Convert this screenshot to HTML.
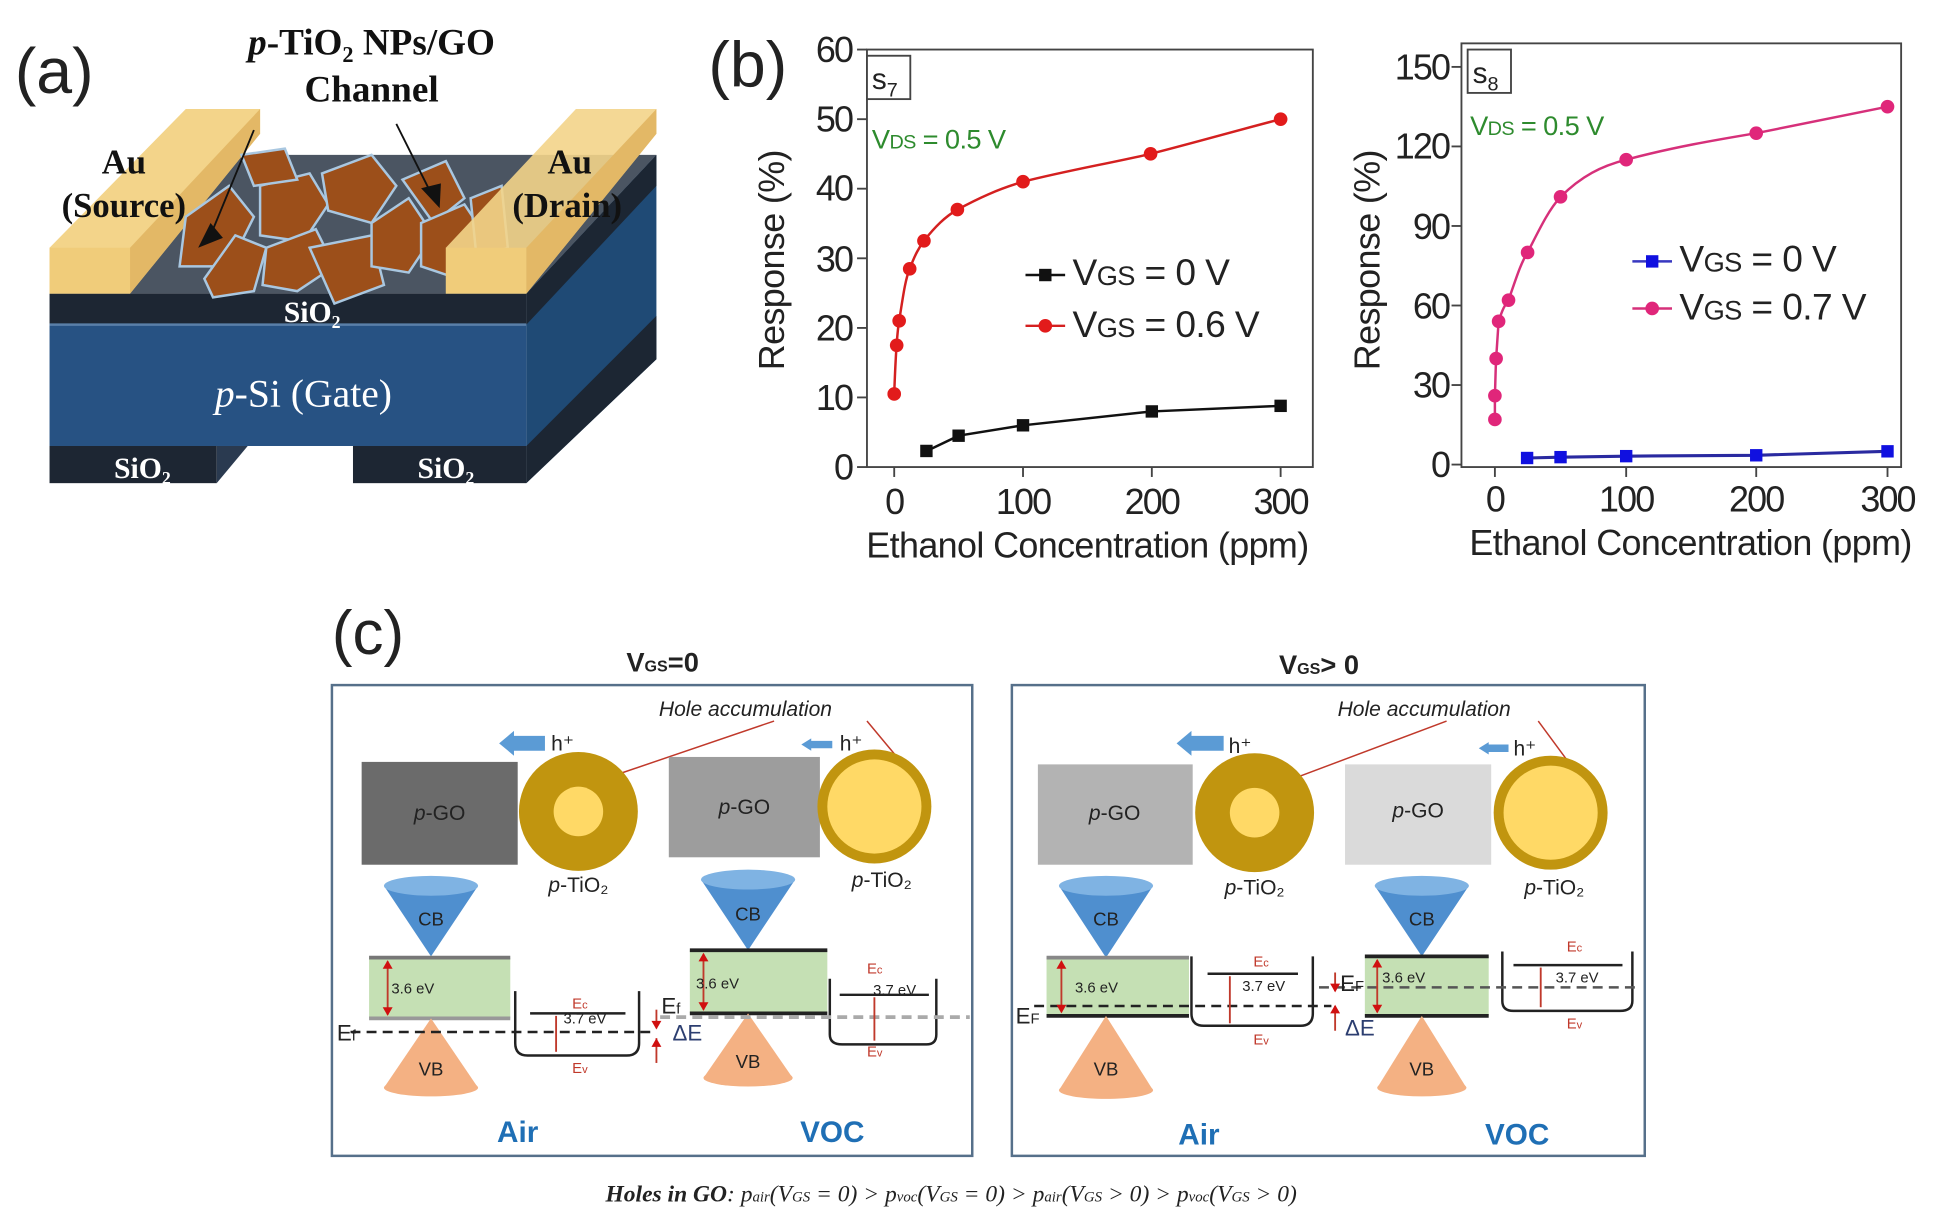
<!DOCTYPE html>
<html><head><meta charset="utf-8"><style>
html,body{margin:0;padding:0;background:#fff;}
svg{display:block;}
.tk{font-family:"Liberation Sans Narrow","Liberation Sans",sans-serif;font-size:29px;fill:#222;letter-spacing:-1.5px;}
.lb{font-family:"Liberation Sans",sans-serif;font-size:29px;fill:#222;letter-spacing:-0.5px;}
.sr{font-family:"Liberation Serif",serif;}
.cs{font-family:"Liberation Sans",sans-serif;}
</style></head><body>
<svg width="1942" height="1224" viewBox="0 0 1568 988" preserveAspectRatio="none" xmlns="http://www.w3.org/2000/svg">
<rect width="1568" height="988" fill="#fff"/>
<!-- (a) -->
<text x="12" y="75" class="cs" font-size="52" fill="#222">(a)</text>
<text x="300" y="44" class="sr" font-size="30" font-weight="bold" text-anchor="middle" fill="#111"><tspan font-style="italic">p</tspan>-TiO₂ NPs/GO</text>
<text x="300" y="82" class="sr" font-size="30" font-weight="bold" text-anchor="middle" fill="#111">Channel</text>
<polygon points="40,237 425,237 530,125 145,125" fill="#4b5562"/>
<polygon points="425,237 530,125 530,290 425,390" fill="#1f4a75"/>
<polygon points="425,237 530,125 530,150 425,262" fill="#1c2633"/>
<polygon points="425,360 530,255 530,290 425,390" fill="#1c2633"/>
<rect x="40" y="237" width="385" height="25" fill="#1d2633"/>
<rect x="40" y="262" width="385" height="98" fill="#275283"/>
<line x1="40" y1="262" x2="425" y2="262" stroke="#5a7fa8" stroke-width="2"/>
<rect x="40" y="360" width="135" height="30" fill="#1d2633"/>
<polygon points="175,360 200,360 175,390" fill="#2a3a50"/>
<rect x="285" y="360" width="140" height="30" fill="#1d2633"/>
<polygon points="40,237 105,237 210,108 210,88 150,88 40,200" fill="#f3d48a"/>
<polygon points="40,200 105,200 105,237 40,237" fill="#f0cc7a"/>
<polygon points="105,200 210,88 210,108 105,237" fill="#e3b866"/>
<g fill="#9c4f1a" stroke="#a9c7e0" stroke-width="2">
<polygon points="150,175 185,150 205,175 185,215 145,215"/>
<polygon points="165,225 190,190 215,200 205,235 172,240"/>
<polygon points="210,150 250,140 265,165 245,195 210,190"/>
<polygon points="215,200 255,185 270,215 240,235 212,230"/>
<polygon points="250,200 300,190 310,230 270,245"/>
<polygon points="260,140 300,125 320,150 300,180 265,170"/>
<polygon points="300,180 330,160 350,190 330,220 300,215"/>
<polygon points="325,145 360,130 375,160 350,180"/>
<polygon points="340,180 375,165 395,195 370,225 340,215"/>
<polygon points="380,160 405,150 410,200 385,210"/>
<polygon points="195,125 230,120 240,145 205,150"/>
</g>
<polygon points="360,237 425,237 530,108 530,88 465,88 360,200" fill="#f3d48a" opacity="0.9"/>
<polygon points="360,200 425,200 425,237 360,237" fill="#f0cc7a"/>
<polygon points="425,200 530,88 530,108 425,237" fill="#e3b866"/>
<line x1="205" y1="105" x2="170" y2="190" stroke="#111" stroke-width="1.5"/>
<polygon points="160,200 170,180 180,192" fill="#111"/>
<line x1="320" y1="100" x2="350" y2="160" stroke="#111" stroke-width="1.5"/>
<polygon points="355,168 340,152 356,148" fill="#111"/>
<text x="100" y="140" class="sr" font-size="28" font-weight="bold" text-anchor="middle" fill="#111">Au</text>
<text x="100" y="175" class="sr" font-size="28" font-weight="bold" text-anchor="middle" fill="#111">(Source)</text>
<text x="460" y="140" class="sr" font-size="28" font-weight="bold" text-anchor="middle" fill="#111">Au</text>
<text x="458" y="175" class="sr" font-size="28" font-weight="bold" text-anchor="middle" fill="#111">(Drain)</text>
<text x="252" y="260" class="sr" font-size="24" font-weight="bold" text-anchor="middle" fill="#fff">SiO₂</text>
<text x="245" y="328" class="sr" font-size="32" text-anchor="middle" fill="#fff"><tspan font-style="italic">p</tspan>-Si (Gate)</text>
<text x="115" y="386" class="sr" font-size="24" font-weight="bold" text-anchor="middle" fill="#fff">SiO₂</text>
<text x="360" y="386" class="sr" font-size="24" font-weight="bold" text-anchor="middle" fill="#fff">SiO₂</text>

<!-- (b) chart 1 -->
<text x="572" y="70" class="cs" font-size="52" fill="#222">(b)</text>
<rect x="700" y="40" width="360" height="337" fill="none" stroke="#444" stroke-width="1.5"/>
<g stroke="#444" stroke-width="1.5">
<line x1="692" y1="377" x2="700" y2="377"/><line x1="692" y1="320.8" x2="700" y2="320.8"/><line x1="692" y1="264.7" x2="700" y2="264.7"/><line x1="692" y1="208.5" x2="700" y2="208.5"/><line x1="692" y1="152.3" x2="700" y2="152.3"/><line x1="692" y1="96.2" x2="700" y2="96.2"/><line x1="692" y1="40" x2="700" y2="40"/>
<line x1="722" y1="377" x2="722" y2="385"/><line x1="826" y1="377" x2="826" y2="385"/><line x1="930" y1="377" x2="930" y2="385"/><line x1="1034" y1="377" x2="1034" y2="385"/>
</g>
<g class="tk" text-anchor="end">
<text x="688" y="387">0</text><text x="688" y="331">10</text><text x="688" y="275">20</text><text x="688" y="219">30</text><text x="688" y="162">40</text><text x="688" y="106">50</text><text x="688" y="50">60</text>
</g>
<g class="tk" text-anchor="middle">
<text x="722" y="415">0</text><text x="826" y="415">100</text><text x="930" y="415">200</text><text x="1034" y="415">300</text>
</g>
<text x="878" y="450" class="lb" text-anchor="middle">Ethanol Concentration (ppm)</text>
<text transform="translate(633,210) rotate(-90)" class="lb" text-anchor="middle">Response (%)</text>
<rect x="700" y="45" width="35" height="35" fill="#fff" stroke="#444" stroke-width="1.5"/>
<text x="704" y="72" class="cs" font-size="24" fill="#222">s<tspan font-size="16" dy="6">7</tspan></text>
<text x="704" y="120" class="tk" style="font-size:22px;fill:#2e8b2e;letter-spacing:-0.5px">V<tspan style="font-size:16px">DS</tspan> = 0.5 V</text>
<path d="M722,318 C723,290 724,270 726,259 C729,240 731,225 734.5,217 C739,205 742,200 746,194.4 C755,183 763,175 773,169.2 C790,160 805,153 826,146.7 C860,138 895,132 929,124.2 C965,115 1000,105 1034,96.2" fill="none" stroke="#d42020" stroke-width="2"/>
<g fill="#e21b1b"><circle cx="722" cy="318" r="5.5"/><circle cx="724" cy="278.7" r="5.5"/><circle cx="726" cy="259" r="5.5"/><circle cx="734.5" cy="217" r="5.5"/><circle cx="746" cy="194.4" r="5.5"/><circle cx="773" cy="169.2" r="5.5"/><circle cx="826" cy="146.7" r="5.5"/><circle cx="929" cy="124.2" r="5.5"/><circle cx="1034" cy="96.2" r="5.5"/></g>
<polyline points="748,364.1 774,351.7 826,343.3 930,332.1 1034,327.6" fill="none" stroke="#111" stroke-width="2"/>
<g fill="#111"><rect x="743" y="359" width="10" height="10"/><rect x="769" y="346.7" width="10" height="10"/><rect x="821" y="338.3" width="10" height="10"/><rect x="925" y="327.1" width="10" height="10"/><rect x="1029" y="322.6" width="10" height="10"/></g>
<line x1="828" y1="222" x2="860" y2="222" stroke="#111" stroke-width="2"/><rect x="839" y="217" width="10" height="10" fill="#111"/>
<text x="866" y="230" class="tk" style="font-size:30px;letter-spacing:-0.5px">V<tspan style="font-size:22px">GS</tspan> = 0 V</text>
<line x1="828" y1="263" x2="860" y2="263" stroke="#d42020" stroke-width="2"/><circle cx="844" cy="263" r="5.5" fill="#e21b1b"/>
<text x="866" y="272" class="tk" style="font-size:30px;letter-spacing:-0.5px">V<tspan style="font-size:22px">GS</tspan> = 0.6 V</text>

<!-- chart 2 -->
<rect x="1180" y="35" width="355" height="342" fill="none" stroke="#444" stroke-width="1.5"/>
<g stroke="#444" stroke-width="1.5">
<line x1="1172" y1="375" x2="1180" y2="375"/><line x1="1172" y1="310.8" x2="1180" y2="310.8"/><line x1="1172" y1="246.6" x2="1180" y2="246.6"/><line x1="1172" y1="182.4" x2="1180" y2="182.4"/><line x1="1172" y1="118.2" x2="1180" y2="118.2"/><line x1="1172" y1="54" x2="1180" y2="54"/>
<line x1="1207" y1="377" x2="1207" y2="385"/><line x1="1313" y1="377" x2="1313" y2="385"/><line x1="1418" y1="377" x2="1418" y2="385"/><line x1="1524" y1="377" x2="1524" y2="385"/>
</g>
<g class="tk" text-anchor="end">
<text x="1170" y="385">0</text><text x="1170" y="321">30</text><text x="1170" y="257">60</text><text x="1170" y="193">90</text><text x="1170" y="128">120</text><text x="1170" y="64">150</text>
</g>
<g class="tk" text-anchor="middle">
<text x="1207" y="413">0</text><text x="1313" y="413">100</text><text x="1418" y="413">200</text><text x="1524" y="413">300</text>
</g>
<text x="1365" y="448" class="lb" text-anchor="middle">Ethanol Concentration (ppm)</text>
<text transform="translate(1114,210) rotate(-90)" class="lb" text-anchor="middle">Response (%)</text>
<rect x="1185" y="40" width="35" height="35" fill="#fff" stroke="#444" stroke-width="1.5"/>
<text x="1189" y="67" class="cs" font-size="24" fill="#222">s<tspan font-size="16" dy="6">8</tspan></text>
<text x="1187" y="109" class="tk" style="font-size:22px;fill:#2e8b2e;letter-spacing:-0.5px">V<tspan style="font-size:16px">DS</tspan> = 0.5 V</text>
<path d="M1207,338.6 L1207,319.4 C1207.5,305 1207.6,297 1208,289.4 C1209,275 1209.5,266 1210,259.4 C1213,250 1215,246 1218,242.3 C1224,225 1228,212 1233.4,203.8 C1243,185 1250,170 1260,158.9 C1277,142 1293,134 1313,128.9 C1350,119 1385,113 1418,107.5 C1455,100 1490,93 1524,86.1" fill="none" stroke="#d6307a" stroke-width="2"/>
<g fill="#e0267a"><circle cx="1207" cy="338.6" r="5.5"/><circle cx="1207" cy="319.4" r="5.5"/><circle cx="1208" cy="289.4" r="5.5"/><circle cx="1210" cy="259.4" r="5.5"/><circle cx="1218" cy="242.3" r="5.5"/><circle cx="1233.4" cy="203.8" r="5.5"/><circle cx="1260" cy="158.9" r="5.5"/><circle cx="1313" cy="128.9" r="5.5"/><circle cx="1418" cy="107.5" r="5.5"/><circle cx="1524" cy="86.1" r="5.5"/></g>
<polyline points="1233,369.7 1260,369 1313,368.2 1418,367.5 1524,364.3" fill="none" stroke="#2a2aa0" stroke-width="2.5"/>
<g fill="#1010e0"><rect x="1228" y="364.7" width="10" height="10"/><rect x="1255" y="364" width="10" height="10"/><rect x="1308" y="363.2" width="10" height="10"/><rect x="1413" y="362.5" width="10" height="10"/><rect x="1519" y="359.3" width="10" height="10"/></g>
<line x1="1318" y1="211" x2="1350" y2="211" stroke="#3838c0" stroke-width="2"/><rect x="1329" y="206" width="10" height="10" fill="#1010e0"/>
<text x="1356" y="219" class="tk" style="font-size:30px;letter-spacing:-0.5px">V<tspan style="font-size:22px">GS</tspan> = 0 V</text>
<line x1="1318" y1="249" x2="1350" y2="249" stroke="#d6307a" stroke-width="2"/><circle cx="1334" cy="249" r="5.5" fill="#e0267a"/>
<text x="1356" y="258" class="tk" style="font-size:30px;letter-spacing:-0.5px">V<tspan style="font-size:22px">GS</tspan> = 0.7 V</text>

<!-- (c) -->
<text x="268" y="528" class="cs" font-size="50" fill="#222">(c)</text>
<text x="535" y="542" class="cs" font-size="22" font-weight="bold" text-anchor="middle" fill="#222">V<tspan font-size="13">GS</tspan>=0</text>
<text x="1065" y="544" class="cs" font-size="22" font-weight="bold" text-anchor="middle" fill="#222">V<tspan font-size="13">GS</tspan>&gt; 0</text>
<rect x="268" y="553" width="517" height="380" fill="#fff" stroke="#56708a" stroke-width="2"/>
<rect x="817" y="553" width="511" height="380" fill="#fff" stroke="#56708a" stroke-width="2"/>
<g class="cs" font-style="italic" font-size="17" fill="#222">
<text x="532" y="578">Hole accumulation</text>
<text x="1080" y="578">Hole accumulation</text>
</g>
<g stroke="#c0392b" stroke-width="1.2" fill="none">
<line x1="625" y1="582" x2="490" y2="628"/><line x1="700" y1="582" x2="725" y2="612"/>
<line x1="1168" y1="582" x2="1035" y2="632"/><line x1="1242" y1="582" x2="1270" y2="620"/>
</g>
<g fill="#5b9bd5">
<polygon points="403,600 415,590 415,594 440,594 440,606 415,606 415,610"/>
<polygon points="647,601 655,596 655,598 672,598 672,604 655,604 655,606"/>
<polygon points="950,600 962,590 962,594 988,594 988,606 962,606 962,610"/>
<polygon points="1194,604 1202,599 1202,601 1218,601 1218,607 1202,607 1202,609"/>
</g>
<g class="cs" font-size="17" fill="#222">
<text x="445" y="606">h⁺</text><text x="678" y="606">h⁺</text><text x="992" y="608">h⁺</text><text x="1222" y="610">h⁺</text>
</g>
<rect x="292" y="615" width="126" height="83" fill="#6b6b6b"/>
<rect x="540" y="611" width="122" height="81" fill="#9d9d9d"/>
<rect x="838" y="617" width="125" height="81" fill="#b3b3b3"/>
<rect x="1086" y="617" width="118" height="81" fill="#dadada"/>
<g class="cs" font-size="17" fill="#222" text-anchor="middle">
<text x="355" y="662"><tspan font-style="italic">p</tspan>-GO</text>
<text x="601" y="657"><tspan font-style="italic">p</tspan>-GO</text>
<text x="900" y="662"><tspan font-style="italic">p</tspan>-GO</text>
<text x="1145" y="660"><tspan font-style="italic">p</tspan>-GO</text>
<text x="467" y="720"><tspan font-style="italic">p</tspan>-TiO₂</text>
<text x="712" y="716"><tspan font-style="italic">p</tspan>-TiO₂</text>
<text x="1013" y="722"><tspan font-style="italic">p</tspan>-TiO₂</text>
<text x="1255" y="722"><tspan font-style="italic">p</tspan>-TiO₂</text>
</g>
<circle cx="467" cy="655" r="48" fill="#c1950f"/><circle cx="467" cy="655" r="20" fill="#ffd966"/>
<circle cx="706" cy="651" r="46" fill="#c1950f"/><circle cx="706" cy="651" r="38" fill="#ffd966"/>
<circle cx="1013" cy="656" r="48" fill="#c1950f"/><circle cx="1013" cy="656" r="20" fill="#ffd966"/>
<circle cx="1252" cy="656" r="46" fill="#c1950f"/><circle cx="1252" cy="656" r="38" fill="#ffd966"/>

<g>
<polygon points="310,715 386,715 348,772" fill="#4f8fcf"/><ellipse cx="348" cy="715" rx="38" ry="8" fill="#7fb3e3"/>
<rect x="298" y="773" width="114" height="49" fill="#c5e0b4"/>
<line x1="298" y1="773" x2="412" y2="773" stroke="#777" stroke-width="3"/><line x1="298" y1="822" x2="412" y2="822" stroke="#999" stroke-width="3"/>
<polygon points="348,822 310,878 386,878" fill="#f4b183"/><ellipse cx="348" cy="878" rx="38" ry="7" fill="#f4b183"/>
<path d="M416,800 L416,842 Q416,852 426,852 L506,852 Q516,852 516,842 L516,800 M428,818 L505,818" fill="none" stroke="#222" stroke-width="2"/>
<line x1="283" y1="833" x2="528" y2="833" stroke="#222" stroke-width="2" stroke-dasharray="8,5"/>
<polygon points="566,710 642,710 604,767" fill="#4f8fcf"/><ellipse cx="604" cy="710" rx="38" ry="8" fill="#7fb3e3"/>
<rect x="557" y="767" width="111" height="51" fill="#c5e0b4"/>
<line x1="557" y1="767" x2="668" y2="767" stroke="#222" stroke-width="3"/><line x1="557" y1="818" x2="668" y2="818" stroke="#222" stroke-width="3"/>
<polygon points="604,818 568,870 640,870" fill="#f4b183"/><ellipse cx="604" cy="870" rx="36" ry="7" fill="#f4b183"/>
<path d="M670,790 L670,835 Q670,843 680,843 L748,843 Q756,843 756,835 L756,790 M678,803 L750,803" fill="none" stroke="#222" stroke-width="2"/>
<line x1="533" y1="821" x2="783" y2="821" stroke="#aaa" stroke-width="3" stroke-dasharray="8,5"/>
<polygon points="855,715 931,715 893,773" fill="#4f8fcf"/><ellipse cx="893" cy="715" rx="38" ry="8" fill="#7fb3e3"/>
<rect x="845" y="773" width="115" height="47" fill="#c5e0b4"/>
<line x1="845" y1="773" x2="960" y2="773" stroke="#888" stroke-width="3"/><line x1="845" y1="820" x2="960" y2="820" stroke="#222" stroke-width="3"/>
<polygon points="893,820 855,880 931,880" fill="#f4b183"/><ellipse cx="893" cy="880" rx="38" ry="7" fill="#f4b183"/>
<path d="M962,772 L962,818 Q962,828 972,828 L1050,828 Q1060,828 1060,818 L1060,772 M975,786 L1048,786" fill="none" stroke="#222" stroke-width="2"/>
<line x1="835" y1="812" x2="1075" y2="812" stroke="#222" stroke-width="2" stroke-dasharray="8,5"/>
<polygon points="1110,715 1186,715 1148,772" fill="#4f8fcf"/><ellipse cx="1148" cy="715" rx="38" ry="8" fill="#7fb3e3"/>
<rect x="1102" y="772" width="100" height="48" fill="#c5e0b4"/>
<line x1="1102" y1="772" x2="1202" y2="772" stroke="#222" stroke-width="3"/><line x1="1102" y1="820" x2="1202" y2="820" stroke="#222" stroke-width="3"/>
<polygon points="1148,820 1112,878 1184,878" fill="#f4b183"/><ellipse cx="1148" cy="878" rx="36" ry="7" fill="#f4b183"/>
<path d="M1213,768 L1213,808 Q1213,816 1222,816 L1308,816 Q1318,816 1318,808 L1318,768 M1222,779 L1310,779" fill="none" stroke="#222" stroke-width="2"/>
<line x1="1065" y1="797" x2="1322" y2="797" stroke="#555" stroke-width="2" stroke-dasharray="8,5"/>
</g>
<g class="cs" font-size="15" fill="#222" text-anchor="middle">
<text x="348" y="747">CB</text><text x="604" y="743">CB</text><text x="893" y="747">CB</text><text x="1148" y="747">CB</text>
<text x="348" y="868">VB</text><text x="604" y="862">VB</text><text x="893" y="868">VB</text><text x="1148" y="868">VB</text>
</g>
<g stroke="#c0392b" stroke-width="1.5">
<line x1="313" y1="776" x2="313" y2="819"/><line x1="449" y1="820" x2="449" y2="849"/>
<line x1="568" y1="770" x2="568" y2="815"/><line x1="706" y1="805" x2="706" y2="840"/>
<line x1="857" y1="776" x2="857" y2="817"/><line x1="993" y1="788" x2="993" y2="826"/>
<line x1="1112" y1="775" x2="1112" y2="817"/><line x1="1244" y1="781" x2="1244" y2="813"/>
<line x1="530" y1="815" x2="530" y2="830"/><line x1="530" y1="838" x2="530" y2="858"/>
<line x1="1078" y1="785" x2="1078" y2="800"/><line x1="1078" y1="812" x2="1078" y2="832"/>
</g>
<g fill="#d01010">
<polygon points="309,782 313,775 317,782"/><polygon points="309,813 313,820 317,813"/>
<polygon points="564,776 568,769 572,776"/><polygon points="564,809 568,816 572,809"/>
<polygon points="853,782 857,775 861,782"/><polygon points="853,811 857,818 861,811"/>
<polygon points="1108,781 1112,774 1116,781"/><polygon points="1108,811 1112,818 1116,811"/>
<polygon points="526,824 530,831 534,824"/><polygon points="526,845 530,838 534,845"/>
<polygon points="1074,794 1078,801 1082,794"/><polygon points="1074,818 1078,811 1082,818"/>
</g>
<g class="cs" font-size="12" fill="#222">
<text x="316" y="802">3.6 eV</text><text x="562" y="798">3.6 eV</text><text x="868" y="801">3.6 eV</text><text x="1116" y="793">3.6 eV</text>
<text x="455" y="826">3.7 eV</text><text x="705" y="803">3.7 eV</text><text x="1003" y="800">3.7 eV</text><text x="1256" y="793">3.7 eV</text>
</g>
<g class="cs" font-size="12" fill="#c0392b">
<text x="462" y="814">E<tspan font-size="9">c</tspan></text><text x="462" y="866">E<tspan font-size="9">v</tspan></text>
<text x="700" y="786">E<tspan font-size="9">c</tspan></text><text x="700" y="853">E<tspan font-size="9">v</tspan></text>
<text x="1012" y="780">E<tspan font-size="9">c</tspan></text><text x="1012" y="843">E<tspan font-size="9">v</tspan></text>
<text x="1265" y="768">E<tspan font-size="9">c</tspan></text><text x="1265" y="830">E<tspan font-size="9">v</tspan></text>
</g>
<g class="cs" font-size="18" fill="#222">
<text x="272" y="840">E<tspan font-size="12">f</tspan></text>
<text x="534" y="818">E<tspan font-size="12">f</tspan></text>
<text x="820" y="826">E<tspan font-size="12">F</tspan></text>
<text x="1082" y="800">E<tspan font-size="12">F</tspan></text>
</g>
<g class="cs" font-size="18" fill="#2c3e70">
<text x="543" y="840">ΔE</text><text x="1086" y="836">ΔE</text>
</g>
<g class="cs" font-size="24" font-weight="bold" fill="#1f6fb5" text-anchor="middle">
<text x="418" y="922">Air</text><text x="672" y="922">VOC</text>
<text x="968" y="924">Air</text><text x="1225" y="924">VOC</text>
</g>
<text x="768" y="970" class="sr" font-size="19" font-style="italic" text-anchor="middle" fill="#222"><tspan font-weight="bold">Holes in GO</tspan>: p<tspan font-size="12">air</tspan>(V<tspan font-size="12">GS</tspan> = 0) &gt; p<tspan font-size="12">voc</tspan>(V<tspan font-size="12">GS</tspan> = 0) &gt; p<tspan font-size="12">air</tspan>(V<tspan font-size="12">GS</tspan> &gt; 0) &gt; p<tspan font-size="12">voc</tspan>(V<tspan font-size="12">GS</tspan> &gt; 0)</text>
</svg>
</body></html>
